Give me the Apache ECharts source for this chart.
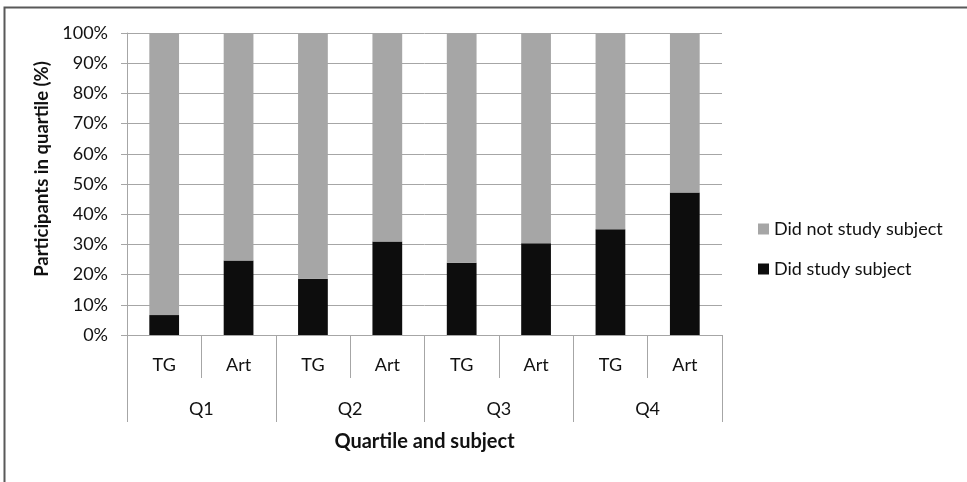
<!DOCTYPE html>
<html>
<head>
<meta charset="utf-8">
<script src="https://cdn.jsdelivr.net/npm/echarts@6/dist/echarts.min.js"></script>
<style>
html,body{margin:0;padding:0;background:#fff;}
#c{width:967px;height:482px;}
</style>
</head>
<body>
<div id="c"></div>
<script>
const subjects = ['TG','Art','TG','Art','TG','Art','TG','Art'];
const quartiles = ['Q1','Q2','Q3','Q4'];
const didStudy = [6.6, 24.7, 18.6, 31.0, 23.9, 30.4, 35.0, 47.2];
const didNotStudy = [93.4, 75.3, 81.4, 69.0, 76.1, 69.6, 65.0, 52.8];
const yTicks = [0,10,20,30,40,50,60,70,80,90,100];

const FONT = 'Lato';
const chart = echarts.init(document.getElementById('c'), null, {renderer:'canvas'});
chart.setOption({
  animation: false,
  textStyle: {fontFamily: FONT},
  graphic: [{
    type: 'rect', silent: true,
    shape: {x: 4.5, y: 7.5, width: 1200, height: 1200},
    style: {fill: 'none', stroke: '#595959', lineWidth: 2}
  }],
  legend: {
    orient: 'vertical', left: 753, top: 215,
    itemWidth: 11, itemHeight: 11, itemGap: 22,
    icon: 'rect',
    textStyle: {fontSize: 18, color: '#111', fontFamily: FONT},
    data: ['Did not study subject', 'Did study subject']
  },
  grid: {left: 127, right: 245, top: 33, bottom: 147},
  xAxis: [{
    type: 'category', data: subjects, gridIndex: 0, position: 'bottom',
    axisLine: {lineStyle: {color: '#a6a6a6', width: 1}},
    axisTick: {show: true, interval: 0, length: 43, lineStyle: {color: '#a6a6a6'}},
    axisLabel: {interval: 0, margin: 21, fontSize: 18, color: '#111', fontFamily: FONT},
    splitLine: {show: false}
  }, {
    type: 'category', data: quartiles, gridIndex: 0, position: 'bottom', offset: 43,
    axisLine: {show: false},
    axisTick: {show: true, interval: 0, length: 44, lineStyle: {color: '#a6a6a6'}},
    axisLabel: {interval: 0, margin: 22, fontSize: 18, color: '#111', fontFamily: FONT},
    name: 'Quartile and subject', nameLocation: 'middle', nameGap: 54,
    nameTextStyle: {fontWeight: 'bold', fontSize: 20, color: '#111', fontFamily: FONT}
  }],
  yAxis: {
    type: 'value', min: 0, max: 100, interval: 10,
    axisLine: {show: true, lineStyle: {color: '#a6a6a6'}},
    axisTick: {show: true, length: 6, lineStyle: {color: '#a6a6a6'}},
    axisLabel: {margin: 19, fontSize: 18, color: '#111', fontFamily: FONT, formatter: v => v + '%'},
    splitLine: {show: true, lineStyle: {color: '#a6a6a6', width: 1}},
    name: 'Participants in quartile (%)', nameLocation: 'middle', nameGap: 73,
    nameTextStyle: {fontWeight: 'bold', fontSize: 18.5, color: '#111', fontFamily: FONT, padding: [0, 0, 0, 30]}
  },
  series: [{
    name: 'Did study subject', type: 'bar', stack: 'total', xAxisIndex: 0,
    data: didStudy, barWidth: '40%',
    itemStyle: {color: '#0d0d0d'}
  }, {
    name: 'Did not study subject', type: 'bar', stack: 'total', xAxisIndex: 0,
    data: didNotStudy, barWidth: '40%',
    itemStyle: {color: '#a6a6a6'}
  }]
});
</script>
</body>
</html>
